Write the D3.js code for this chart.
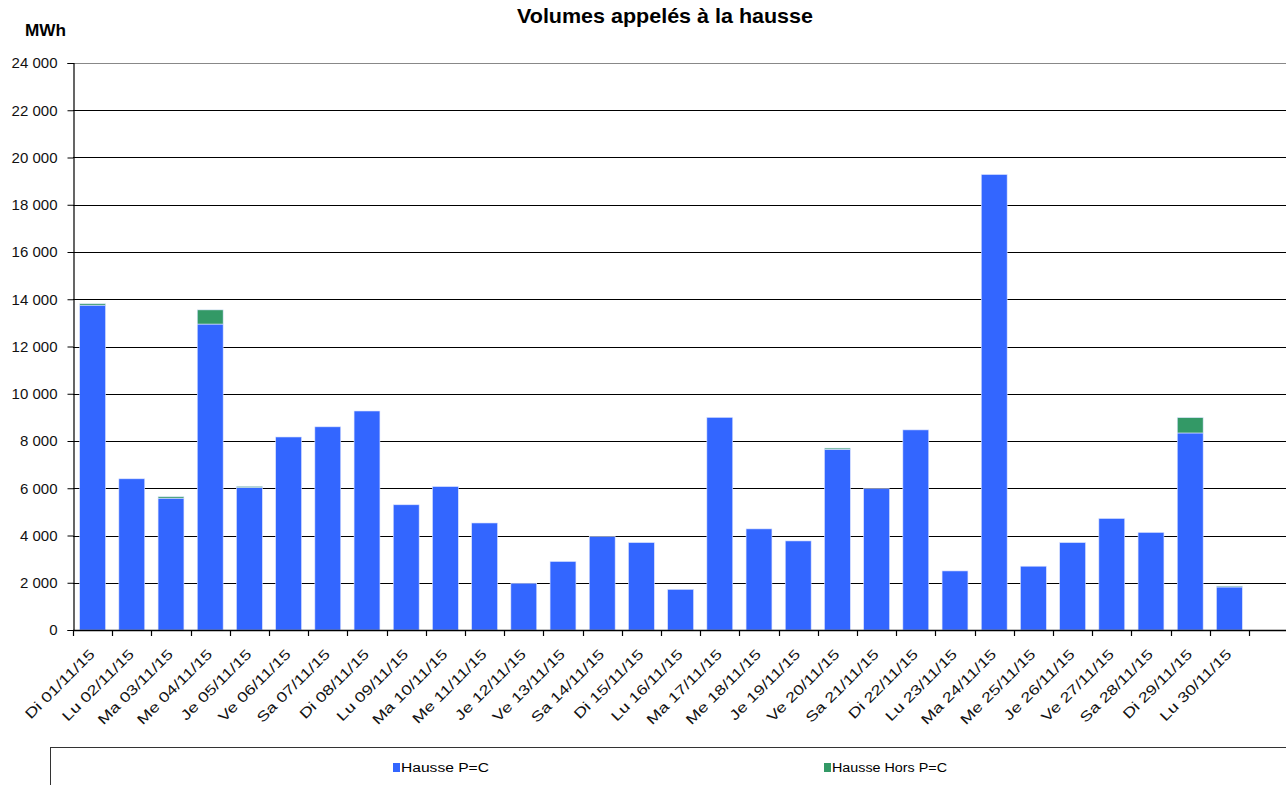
<!DOCTYPE html>
<html><head><meta charset="utf-8">
<script src="https://cdn.jsdelivr.net/npm/d3@7"></script>
<style>body{margin:0;background:#fff;}svg{display:block;font-family:"Liberation Sans",Arial,sans-serif;}</style>
</head><body><svg id="c" width="1286" height="785"></svg>
<script>
const categories = ["Di 01/11/15","Lu 02/11/15","Ma 03/11/15","Me 04/11/15","Je 05/11/15","Ve 06/11/15","Sa 07/11/15","Di 08/11/15","Lu 09/11/15","Ma 10/11/15","Me 11/11/15","Je 12/11/15","Ve 13/11/15","Sa 14/11/15","Di 15/11/15","Lu 16/11/15","Ma 17/11/15","Me 18/11/15","Je 19/11/15","Ve 20/11/15","Sa 21/11/15","Di 22/11/15","Lu 23/11/15","Ma 24/11/15","Me 25/11/15","Je 26/11/15","Ve 27/11/15","Sa 28/11/15","Di 29/11/15","Lu 30/11/15"];
const haussePC = [13750,6400,5580,12950,6030,8170,8600,9270,5300,6070,4530,1980,2900,3950,3700,1720,9000,4280,3770,7650,5980,8470,2500,19280,2700,3700,4720,4130,8340,1820];
const hausseHorsPC = [60,0,60,600,50,0,0,0,0,0,0,0,0,0,0,0,0,0,0,50,0,0,0,0,0,0,0,0,650,40];
const yTicks = [0,2000,4000,6000,8000,10000,12000,14000,16000,18000,20000,22000,24000];
const seriesNames = ["Hausse P=C","Hausse Hors P=C"];
const colors = ["#3366FF","#339966"];

const svg = d3.select("#c");
const L = 73, R = 1249, T = 63, B = 630, gridRight = 1286;
const x = d3.scaleBand().domain(categories).range([L, R]).paddingInner(0.34).paddingOuter(0.17);
const y = d3.scaleLinear().domain([0, 24000]).range([B, T]);
const fmt = v => v >= 1000 ? d3.format(",")(v).replace(",", " ") : String(v);

// gridlines
svg.append("g").selectAll("line").data(yTicks.filter(d => d > 0)).join("line")
  .attr("x1", L).attr("x2", gridRight)
  .attr("y1", d => Math.round(y(d)) + 0.5).attr("y2", d => Math.round(y(d)) + 0.5)
  .attr("stroke", d => d === 24000 ? "#888" : "#000").attr("stroke-width", 1);

// stacked bars
const data = categories.map((c, i) => ({cat: c, a: haussePC[i], b: hausseHorsPC[i]}));
const stack = d3.stack().keys(["a", "b"])(data);
svg.append("g").selectAll("g").data(stack).join("g")
  .attr("fill", (d, i) => colors[i])
  .selectAll("rect").data(d => d.filter(p => p[1] > p[0])).join("rect")
  .attr("x", d => x(d.data.cat)).attr("width", x.bandwidth())
  .attr("y", d => y(d[1])).attr("height", d => y(d[0]) - y(d[1]))
  .attr("stroke", "#dde4ff").attr("stroke-width", 0.6);

// y axis
const yAxis = svg.append("g").attr("transform", `translate(${L + 0.5},0)`)
  .call(d3.axisLeft(y).tickValues(yTicks).tickSize(6).tickPadding(10).tickFormat(fmt));
yAxis.select(".domain").attr("stroke", "#000").attr("stroke-width", 1.2);
yAxis.selectAll(".tick line").attr("stroke", "#000");
yAxis.selectAll("text").attr("font-size", 15).attr("fill", "#111").attr("font-family", "Liberation Sans, Arial, sans-serif");

// x axis line and ticks
const xg = svg.append("g");
xg.append("line").attr("x1", L).attr("x2", gridRight).attr("y1", B + 0.5).attr("y2", B + 0.5).attr("stroke", "#000").attr("stroke-width", 1.5);
const bounds = d3.range(categories.length + 1).map(i => L + i * (R - L) / categories.length);
xg.selectAll("line.t").data(bounds).join("line").attr("class", "t")
  .attr("x1", d => Math.round(d) + 0.5).attr("x2", d => Math.round(d) + 0.5)
  .attr("y1", B).attr("y2", B + 6).attr("stroke", "#000").attr("stroke-width", 1.2);
xg.selectAll("text").data(categories).join("text")
  .attr("transform", d => `translate(${x(d) + x.bandwidth() / 2 + 3},${B + 25}) rotate(-45) scale(1.3,1)`)
  .attr("text-anchor", "end").attr("font-size", 14).attr("fill", "#111").text(d => d);

// title
svg.append("text").attr("x", 665).attr("y", 23).attr("text-anchor", "middle")
  .attr("font-size", 21).attr("font-weight", "bold").attr("textLength", 296).attr("lengthAdjust", "spacingAndGlyphs")
  .text("Volumes appelés à la hausse");
svg.append("text").attr("x", 25).attr("y", 36).attr("font-size", 17).attr("font-weight", "bold")
  .attr("textLength", 41).attr("lengthAdjust", "spacingAndGlyphs").text("MWh");

// legend
svg.append("rect").attr("x", 50.5).attr("y", 747.5).attr("width", 1250).attr("height", 60)
  .attr("fill", "none").attr("stroke", "#333").attr("stroke-width", 1);
const legX = [393, 824];
const lg = svg.append("g").selectAll("g").data(seriesNames).join("g")
  .attr("transform", (d, i) => `translate(${legX[i]},763)`);
lg.append("rect").attr("width", 7).attr("height", 9).attr("fill", (d, i) => colors[i]);
lg.append("text").attr("x", 8).attr("y", 9).attr("font-size", 12).attr("textLength", (d, i) => i ? 115 : 88)
  .attr("lengthAdjust", "spacingAndGlyphs").text(d => d);
</script></body></html>
